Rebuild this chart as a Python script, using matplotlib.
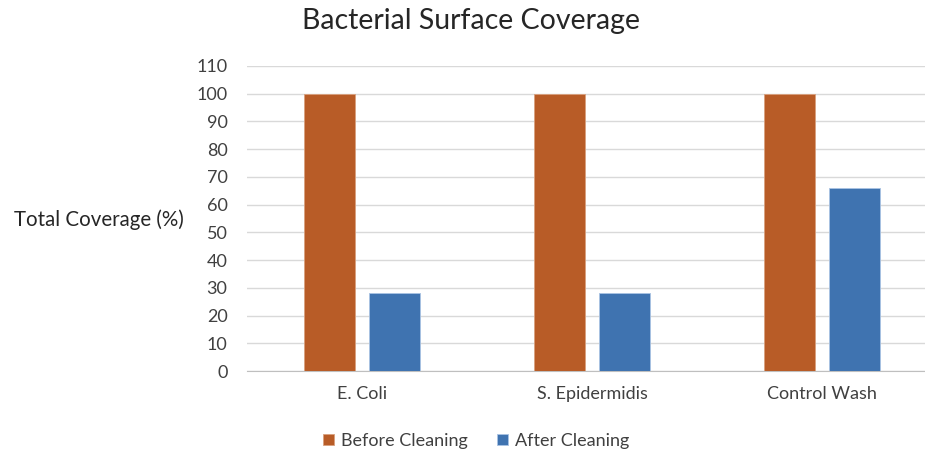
import matplotlib
matplotlib.use("Agg")
import matplotlib.pyplot as plt
import numpy as np

categories = ["E. Coli", "S. Epidermidis", "Control Wash"]
before = [100, 100, 100]
after = [28, 28, 66]
series_names = ["Before Cleaning", "After Cleaning"]
yticks = list(range(0, 111, 10))

plt.rcParams['font.family'] = ['Lato', 'DejaVu Sans']

fig = plt.figure(figsize=(9.25, 4.54), dpi=100)
ax = fig.add_axes([247/925, 1-371/454, (937-247)/925, (371-66)/454])

x = np.arange(len(categories))
w = 0.222
off = 0.143
c1 = "#B85C27"
c2 = "#3F73B0"
ax.bar(x - off, before, w, color=c1, edgecolor="#D9A07E", linewidth=0.6, label=series_names[0], zorder=3)
ax.bar(x + off, after, w, color=c2, edgecolor="#A9C3E3", linewidth=0.6, label=series_names[1], zorder=3)

ax.set_xlim(-0.5, 2.5)
ax.set_ylim(0, 110)
ax.set_yticks(yticks)
ax.set_xticks(x)
ax.set_xticklabels(categories)
ax.grid(axis='y', color='#D9D9D9', linewidth=1, zorder=0)
for s in ['top', 'right', 'left']:
    ax.spines[s].set_visible(False)
ax.spines['bottom'].set_color('#BFBFBF')
ax.tick_params(axis='both', length=0, labelsize=13, colors='#404040')
ax.tick_params(axis='x', pad=11)
ax.tick_params(axis='y', pad=14)

fig.text(99/925, 1-220/454, "Total Coverage (%)", ha='center', va='center', fontsize=14.8, color='#262626')
fig.text(471/925, 1-21/454, "Bacterial Surface Coverage", ha='center', va='center', fontsize=20.5, color='#262626')

fig.legend(loc='center', bbox_to_anchor=(476/925, 1-441/454), ncol=2, frameon=False,
           fontsize=13, handlelength=0.6, handleheight=0.6, columnspacing=1.6, handletextpad=0.4,
           labelcolor='#404040')

fig.savefig("out.png", dpi=100)
